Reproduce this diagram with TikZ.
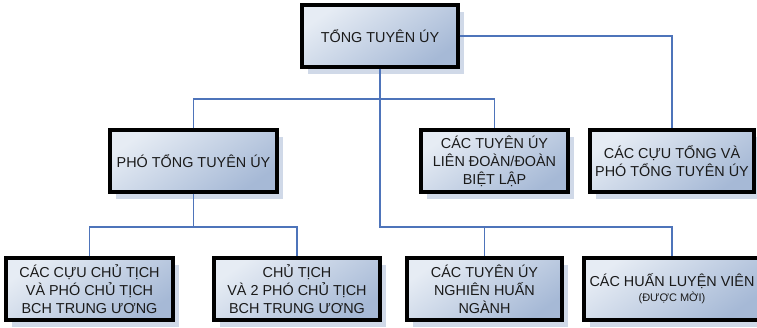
\documentclass[tikz,border=0pt]{standalone}
\usepackage{fontspec}
\setmainfont{Liberation Sans}
\usetikzlibrary{shadows}
\definecolor{boxtop}{HTML}{E6ECF4}
\definecolor{boxbot}{HTML}{A6B9D6}
\definecolor{shadowc}{HTML}{D0D9E8}
\definecolor{linec}{HTML}{4E74BA}
\definecolor{textc}{HTML}{1A1A1A}
\tikzset{
  orgbox/.style={draw=black, line width=3.2pt, top color=boxtop, bottom color=boxbot,
    shading angle=35,
    align=center, inner sep=0pt, minimum height=62pt, text=textc,
    font=\fontsize{14.4}{18}\selectfont,
    drop shadow={shadow xshift=6pt, shadow yshift=-7pt, fill=shadowc, draw=none, opacity=1}},
  conn/.style={draw=linec, line width=1.6pt}
}
\begin{document}
\begin{tikzpicture}[x=1pt,y=-1pt]
\useasboundingbox (0,0) rectangle (757,327);
\coordinate (b1) at (380,99);
\coordinate (b2) at (380,227);
\coordinate (b3) at (193.5,227);
\node[orgbox, minimum width=156pt] (top) at (380,36) {TỔNG TUYÊN ÚY};
\node[orgbox, minimum width=167pt] (pho) at (193.5,161) {PHÓ TỔNG TUYÊN ÚY};
\node[orgbox, minimum width=147pt] (lien) at (494.5,161) {CÁC TUYÊN ÚY\\LIÊN ĐOÀN/ĐOÀN\\BIỆT LẬP};
\node[orgbox, minimum width=164pt] (cuu) at (672,161) {CÁC CỰU TỔNG VÀ\\PHÓ TỔNG TUYÊN ÚY};
\node[orgbox, minimum width=167pt] (cuucht) at (89.5,289) {CÁC CỰU CHỦ TỊCH\\VÀ PHÓ CHỦ TỊCH\\BCH TRUNG ƯƠNG};
\node[orgbox, minimum width=166pt] (chutich) at (297,289) {CHỦ TỊCH\\VÀ 2 PHÓ CHỦ TỊCH\\BCH TRUNG ƯƠNG};
\node[orgbox, minimum width=155pt] (nghien) at (484.5,289) {CÁC TUYÊN ÚY\\NGHIÊN HUẤN\\NGÀNH};
\node[orgbox, minimum width=176pt] (huan) at (672,289) {CÁC HUẤN LUYỆN VIÊN\\[-3pt]{\fontsize{11}{13}\selectfont (ĐƯỢC MỜI)}};
\draw[conn] (top.south) -- (b2) -| (huan.north);
\draw[conn] (nghien.north) -- (nghien.north |- b2);
\draw[conn] (pho.north) |- (b1) -| (lien.north);
\draw[conn] (top.east) -| (cuu.north);
\draw[conn] (pho.south) -- (b3);
\draw[conn] (cuucht.north) |- (b3) -| (chutich.north);
\end{tikzpicture}
\end{document}
